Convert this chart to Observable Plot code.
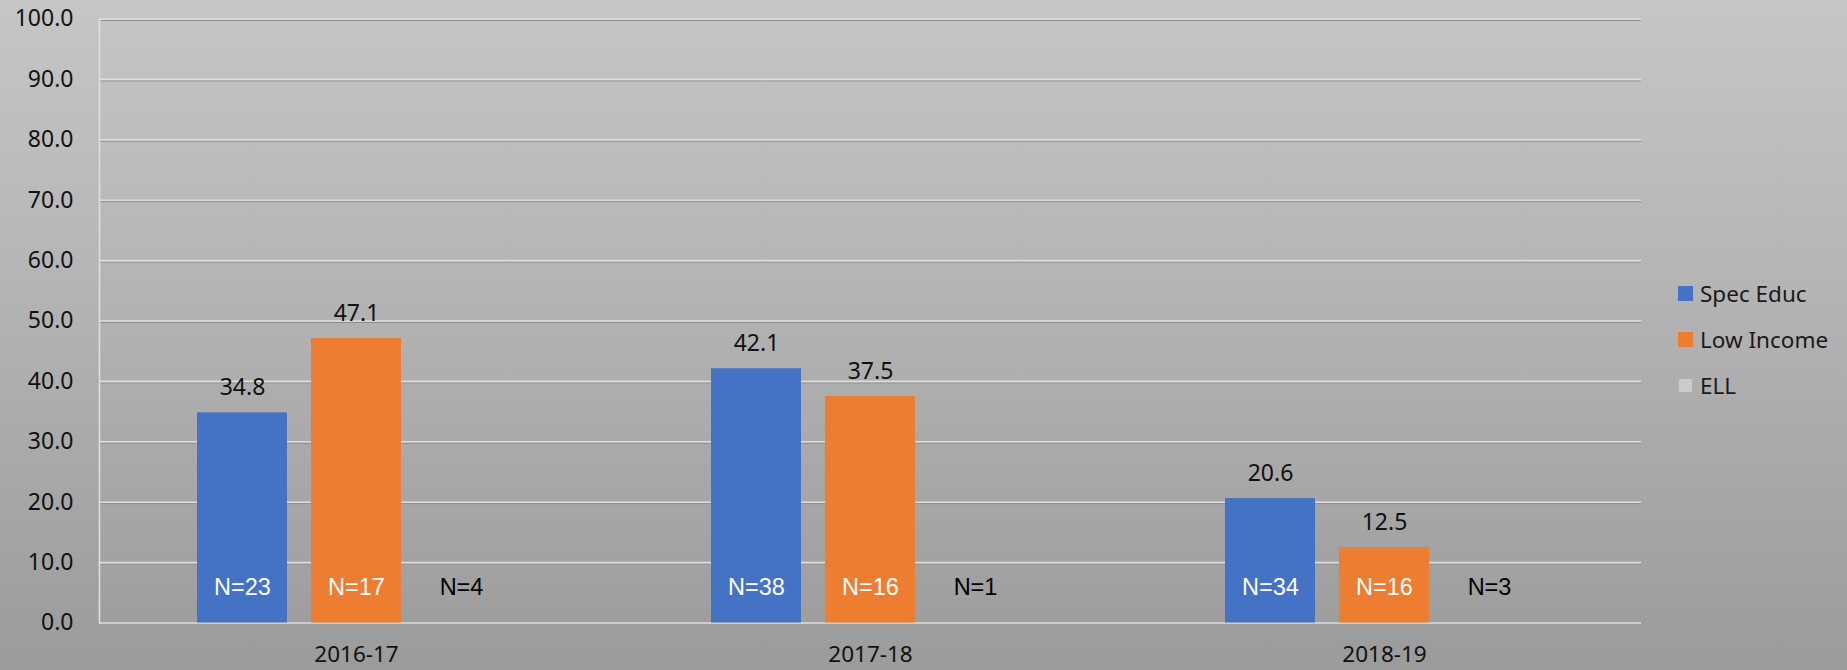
<!DOCTYPE html>
<html>
<head>
<meta charset="utf-8">
<script src="https://cdn.jsdelivr.net/npm/d3@7"></script>
<script src="https://cdn.jsdelivr.net/npm/@observablehq/plot@0.6"></script>
<style>
  body { margin: 0; }
  #wrap {
    position: relative; width: 1847px; height: 670px; overflow: hidden;
    background: linear-gradient(to bottom, #c6c6c6 0%, #b1b1b1 50%, #9b9b9b 100%);
    font-family: "Noto Sans", sans-serif;
  }
  #chart { position: absolute; left: 0; top: 0; }
  #legend { position: absolute; left: 1678px; top: 270px; }
  .item { display: flex; align-items: center; height: 46px; font-size: 22.5px; color: #1a1a1a; }
  .sw { width: 15px; height: 15px; margin-right: 7px; box-sizing: border-box; }
</style>
</head>
<body>
<div id="wrap"><div id="chart"></div><div id="legend"></div></div>
<script>
const years = ["2016-17", "2017-18", "2018-19"];
const series = ["Spec Educ", "Low Income", "ELL"];
const specEduc = [34.8, 42.1, 20.6];
const lowIncome = [47.1, 37.5, 12.5];
const ell = [null, null, null];
const specN = [23, 38, 34];
const lowN = [17, 16, 16];
const ellN = [4, 1, 3];
const yTicks = [0, 10, 20, 30, 40, 50, 60, 70, 80, 90, 100];
const colors = ["#4472C4", "#ED7D31", "#CBCBCB"];

const values = [specEduc, lowIncome, ell];
const counts = [specN, lowN, ellN];
const rows = [];
years.forEach((year, i) => {
  series.forEach((s, j) => {
    rows.push({ year, series: s, value: values[j][i], n: counts[j][i] });
  });
});
const withValue = rows.filter(d => d.value != null);

const chart = Plot.plot({
  width: 1847,
  height: 670,
  marginLeft: 98,
  marginRight: 205,
  marginTop: 18.5,
  marginBottom: 47.5,
  style: { background: "transparent", fontFamily: "'Noto Sans', sans-serif", color: "#111" },
  fx: { domain: years, padding: 0, label: null },
  x: { domain: series, paddingInner: 0.21, paddingOuter: 0.853, axis: null },
  y: { domain: [0, 100], label: null },
  color: { domain: series, range: colors },
  marks: [
    Plot.ruleY(yTicks.filter(t => t > 0), { stroke: "#8f8f8f", strokeWidth: 1, dy: 1.5 }),
    Plot.ruleY(yTicks, { stroke: "#dedede", strokeWidth: 1.6 }),
    Plot.frame({ anchor: "left", facetAnchor: "left", stroke: "#dedede", strokeWidth: 1.6 }),
    Plot.barY(withValue, { fx: "year", x: "series", y: "value", fill: "series" }),
    Plot.text(withValue, {
      fx: "year", x: "series", y: "value", text: d => d.value.toFixed(1),
      dy: -25, fontSize: 23, fill: "#111"
    }),
    Plot.text(rows.filter(d => d.series !== "ELL"), {
      fx: "year", x: "series", text: d => "N=" + d.n, frameAnchor: "bottom",
      dy: -28, fontSize: 23.5, fill: "#fff", fontFamily: "'Liberation Sans', Arial, sans-serif"
    }),
    Plot.text(rows.filter(d => d.series === "ELL"), {
      fx: "year", x: "series", text: d => "N=" + d.n, frameAnchor: "bottom",
      dy: -28, dx: -9, fontSize: 23.5, fill: "#000", fontFamily: "'Liberation Sans', Arial, sans-serif"
    }),
    Plot.axisY({
      ticks: yTicks, tickFormat: d => d.toFixed(1), tickSize: 0, tickPadding: 26,
      fontSize: 23, fill: "#111", label: null
    }),
    Plot.axisFx({
      anchor: "bottom", tickSize: 0, tickPadding: 23, fontSize: 22.5, fill: "#111", label: null
    })
  ]
});
document.getElementById("chart").appendChild(chart);

const legend = document.getElementById("legend");
series.forEach((s, j) => {
  const item = document.createElement("div");
  item.className = "item";
  const sw = document.createElement("div");
  sw.className = "sw";
  sw.style.background = colors[j];
  if (s === "ELL") sw.style.border = "1px solid #b0b0b0";
  const label = document.createElement("span");
  label.textContent = s;
  item.appendChild(sw);
  item.appendChild(label);
  legend.appendChild(item);
});
</script>
</body>
</html>
